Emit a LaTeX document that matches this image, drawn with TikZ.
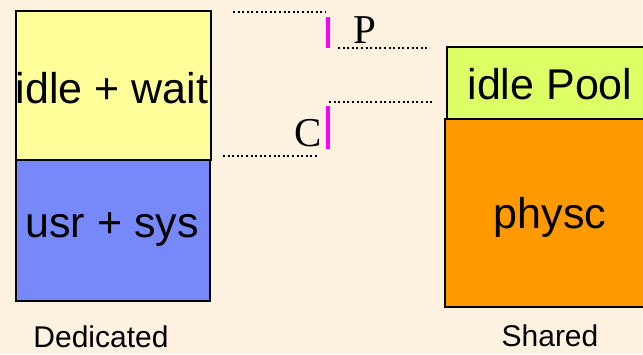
\documentclass[tikz,border=0pt]{standalone}
\usepackage{fontspec}
\setmainfont{Liberation Sans}
\newfontfamily\serifP{Liberation Serif}
\definecolor{bg}{HTML}{FDF2E0}
\definecolor{ylw}{HTML}{FFFF99}
\definecolor{blu}{HTML}{7788F8}
\definecolor{grn}{HTML}{DDFF66}
\definecolor{org}{HTML}{FF9900}
\definecolor{mag}{HTML}{FF00FF}
\begin{document}
\begin{tikzpicture}[x=1pt,y=-1pt,
  box/.style={draw=black,line width=1.6pt,inner sep=0pt,anchor=north west},
  btxt/.style={font=\fontsize{43}{48}\selectfont,inner sep=0pt},
  dotline/.style={line width=2.2pt,dash pattern=on 2pt off 2.6pt,black},
  bar/.style={mag,line width=3.5pt},
  lbl/.style={font=\fontsize{30}{36}\selectfont,inner sep=0pt}]
\fill[bg] (0,0) rectangle (643,354);
\useasboundingbox (0,0) rectangle (643,354);
\clip (0,0) rectangle (643,354);
% left stack
\node[box,fill=ylw,minimum width=195pt,minimum height=149pt] (iw) at (15,10) {};
\node[btxt] (iwt) at (112,88) {idle + wait};
\node[box,fill=blu,minimum width=194pt,minimum height=141pt] (us) at (15,159) {};
\node[btxt] (ust) at (112,230) {usr + sys};
% right stack
\node[box,fill=grn,minimum width=220pt,minimum height=72pt] (ip) at (446,46) {};
\node[btxt] (ipt) at (550,84) {idle Pool};
\node[box,fill=org,minimum width=222pt,minimum height=188pt] (ph) at (444,118) {};
\node[btxt] (pht) at (550,217) {physc};
% labels
\node[lbl] (ded) at (101,337) {Dedicated};
\node[lbl] (sha) at (550,336) {Shared};
% dotted lines and markers
\coordinate (a1) at (233,12); \coordinate (a2) at (326,12);
\coordinate (b1) at (338,48); \coordinate (b2) at (430,48);
\coordinate (c1) at (329,102); \coordinate (c2) at (433,102);
\coordinate (d1) at (223,156); \coordinate (d2) at (317,156);
\draw[dotline] (a1) -- (a2);
\draw[dotline] (b1) -- (b2);
\draw[dotline] (c1) -- (c2);
\draw[dotline] (d1) -- (d2);
\coordinate (p1) at (328,17); \coordinate (p2) at (328,48);
\coordinate (q1) at (328,106); \coordinate (q2) at (328,149);
\draw[bar] (p1) -- (p2);
\draw[bar] (q1) -- (q2);
\node[inner sep=0pt] (P) at (365,30) {\serifP\fontsize{41}{44}\selectfont P};
\node[inner sep=0pt] (C) at (308,133) {\serifP\fontsize{41}{44}\selectfont C};
\end{tikzpicture}
\end{document}
